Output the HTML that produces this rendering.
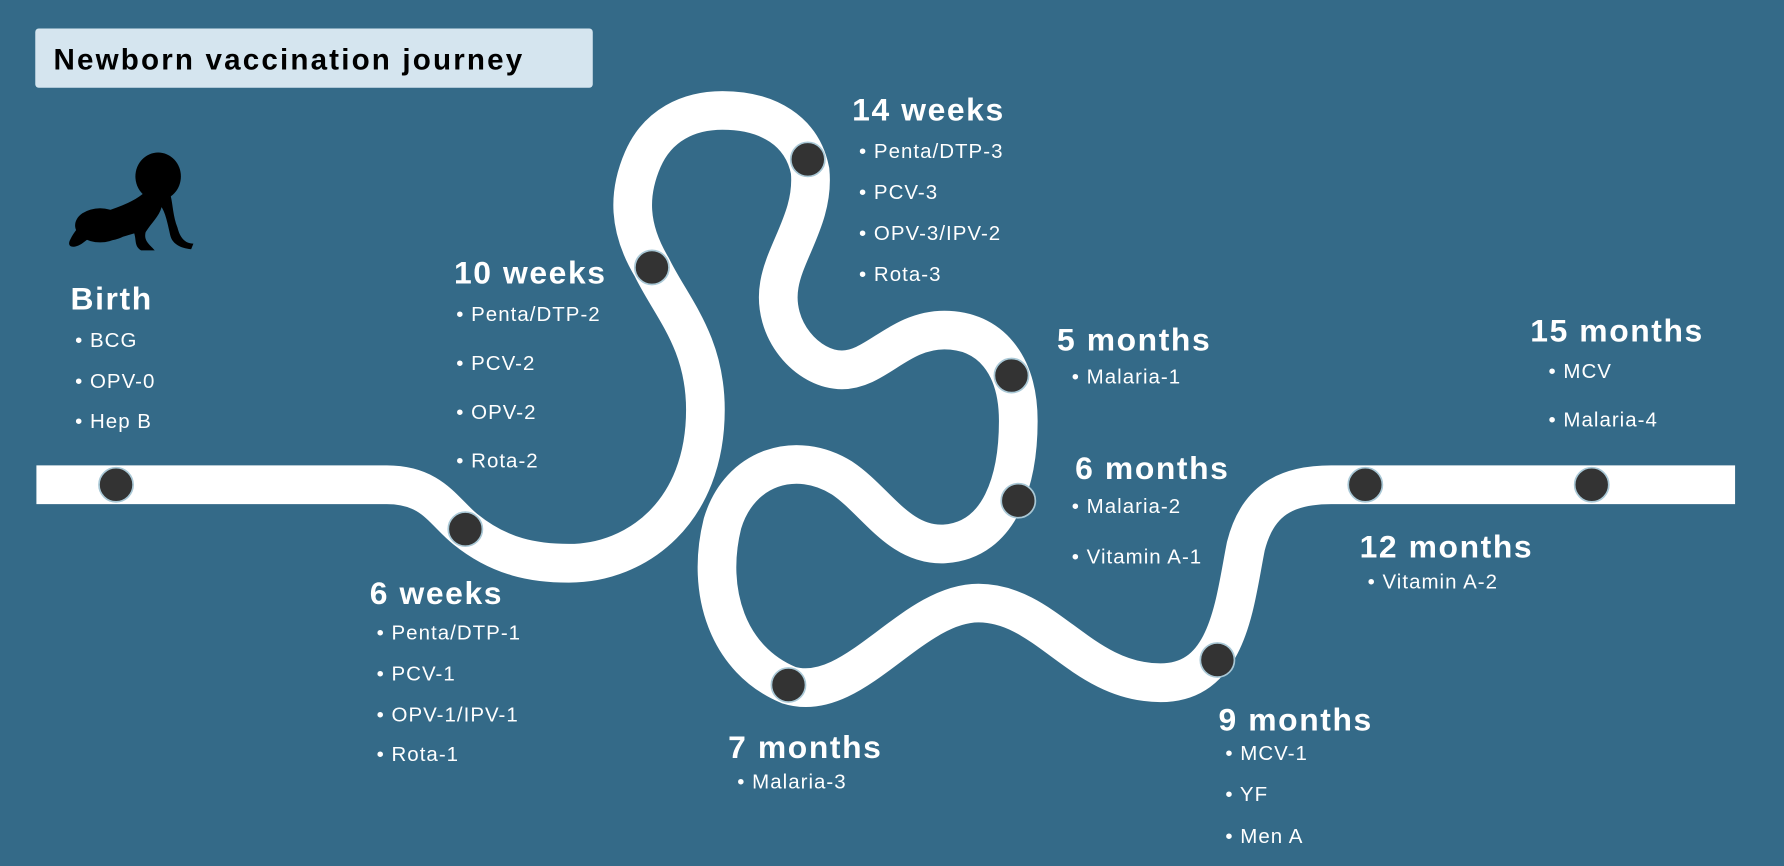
<!DOCTYPE html>
<html><head><meta charset="utf-8"><style>
html,body{margin:0;padding:0;background:#346a88;}
svg{display:block}
text{font-family:"Liberation Sans",sans-serif;fill:#fff}
.h{font-weight:bold;font-size:28px;letter-spacing:1.4px}
.i{font-size:18px;letter-spacing:0.9px}
</style></head><body>
<svg width="1784" height="866" viewBox="0 0 1568 761" xmlns="http://www.w3.org/2000/svg">
<rect width="1568" height="761" fill="#346a88"/>
<rect x="31" y="25" width="490" height="52" rx="3" fill="#d5e5ef"/>
<text x="47" y="61" style="fill:#000;font-weight:bold;font-size:26px;letter-spacing:1.9px">Newborn vaccination journey</text>
<!-- baby -->
<g fill="#000">
<ellipse cx="139" cy="155" rx="20" ry="21"/>
<path d="M126,170 C116,178 104,182 92,186 C78,190 68,198 62,210 C58,217 64,219 72,214 L80,208 C90,213 100,212 108,208 L118,205 C120,212 118,216 124,220 L136,220 C132,215 126,212 128,204 C133,196 140,190 142,182 C146,188 148,200 150,208 C152,214 158,218 168,219 L170,214 C162,214 158,208 156,200 C152,190 152,180 150,172 Z"/>
<ellipse cx="88" cy="198" rx="22" ry="15"/>
</g>
<path d="M32,426 L340,426 C380,426 390,450 409,465 C440,490 470,495 500,495 C560,495 620,450 620,360 C620,300 590,270 573,235 C552,200 552,170 565,140 C578,110 605,97 635,97 C675,97 705,115 712,150 C716,190 690,220 685,250 C678,290 710,325 740,325 C770,325 790,290 830,290 C870,290 895,320 895,370 C895,420 880,475 830,478 C790,480 770,440 740,420 C700,395 650,410 635,460 C620,520 640,580 693,602 C750,620 800,530 860,530 C920,530 950,600 1020,600 C1080,600 1085,530 1095,480 C1105,440 1130,426 1170,426 L1525,426" fill="none" stroke="#fff" stroke-width="34"/>
<g fill="#333" stroke="#a9c8d6" stroke-width="1.5">
<circle cx="102" cy="426" r="15"/><circle cx="409" cy="465" r="15"/><circle cx="573" cy="235" r="15"/>
<circle cx="710" cy="140" r="15"/><circle cx="889" cy="330" r="15"/><circle cx="895" cy="440" r="15"/>
<circle cx="693" cy="602" r="15"/><circle cx="1070" cy="580" r="15"/><circle cx="1200" cy="426" r="15"/>
<circle cx="1399" cy="426" r="15"/>
</g>
<text class="h" x="62" y="272">Birth</text>
<text class="i" x="66" y="305">• BCG</text><text class="i" x="66" y="341">• OPV-0</text><text class="i" x="66" y="376">• Hep B</text>
<text class="h" x="325" y="531">6 weeks</text>
<text class="i" x="331" y="562">• Penta/DTP-1</text><text class="i" x="331" y="598">• PCV-1</text><text class="i" x="331" y="634">• OPV-1/IPV-1</text><text class="i" x="331" y="669">• Rota-1</text>
<text class="h" x="399" y="249">10 weeks</text>
<text class="i" x="401" y="282">• Penta/DTP-2</text><text class="i" x="401" y="325">• PCV-2</text><text class="i" x="401" y="368">• OPV-2</text><text class="i" x="401" y="411">• Rota-2</text>
<text class="h" x="749" y="106">14 weeks</text>
<text class="i" x="755" y="139">• Penta/DTP-3</text><text class="i" x="755" y="175">• PCV-3</text><text class="i" x="755" y="211">• OPV-3/IPV-2</text><text class="i" x="755" y="247">• Rota-3</text>
<text class="h" x="929" y="308">5 months</text>
<text class="i" x="942" y="337">• Malaria-1</text>
<text class="h" x="945" y="421">6 months</text>
<text class="i" x="942" y="451">• Malaria-2</text><text class="i" x="942" y="495">• Vitamin A-1</text>
<text class="h" x="640" y="666">7 months</text>
<text class="i" x="648" y="693">• Malaria-3</text>
<text class="h" x="1071" y="642">9 months</text>
<text class="i" x="1077" y="668">• MCV-1</text><text class="i" x="1077" y="704">• YF</text><text class="i" x="1077" y="741">• Men A</text>
<text class="h" x="1195" y="490">12 months</text>
<text class="i" x="1202" y="517">• Vitamin A-2</text>
<text class="h" x="1345" y="300">15 months</text>
<text class="i" x="1361" y="332">• MCV</text><text class="i" x="1361" y="375">• Malaria-4</text>
</svg>
</body></html>
